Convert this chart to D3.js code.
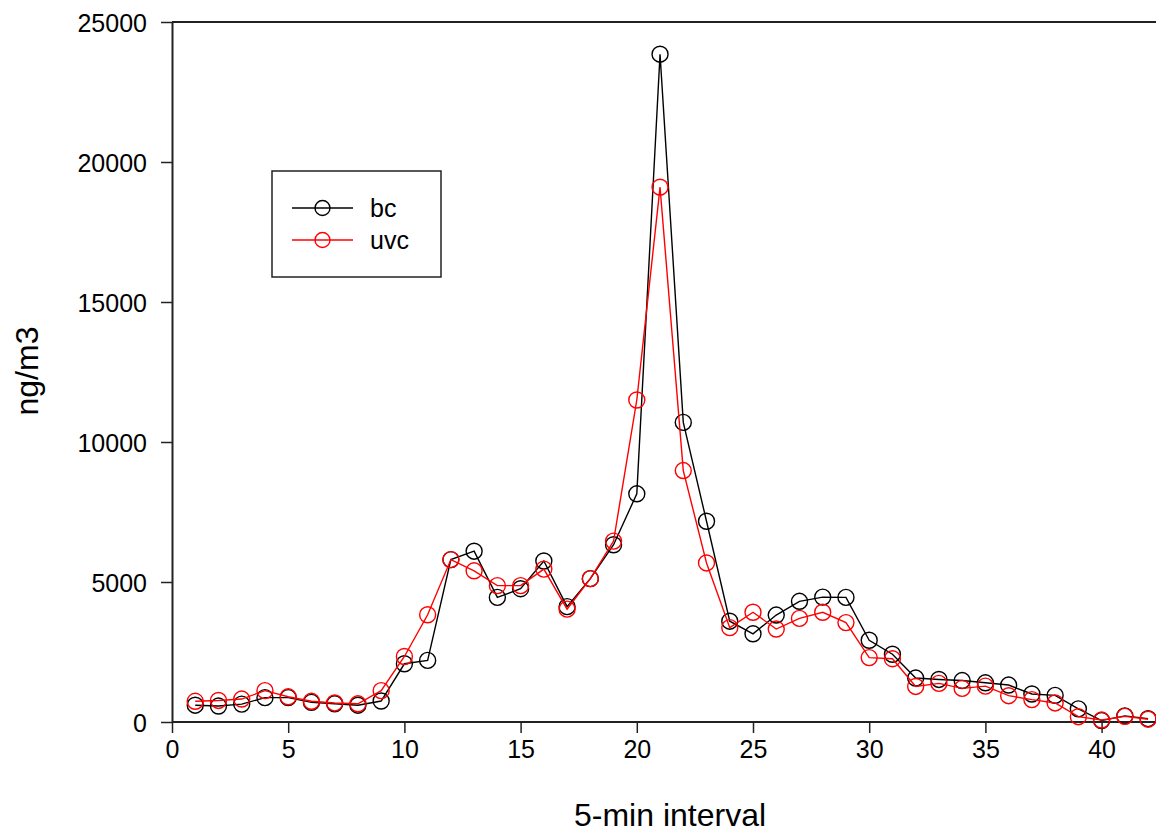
<!DOCTYPE html>
<html>
<head>
<meta charset="utf-8">
<script src="https://cdn.jsdelivr.net/npm/d3@7"></script>
<style>
  body { margin: 0; background: #fff; }
  svg { font-family: Arial, "Liberation Sans", sans-serif; }
</style>
</head>
<body>
<svg width="1156" height="835"></svg>
<script>
// 5-min intervals 1..42
const intervals = d3.range(1, 43);
const bc = [600, 570, 640, 870, 870, 700, 650, 600, 750, 2080,
  2200, 5800, 6100, 4450, 4760, 5750, 4120, 5120, 6330, 8150,
  23850, 10700, 7170, 3600, 3150, 3820, 4310, 4460, 4450, 2920,
  2420, 1570, 1520, 1480, 1400, 1320, 1000, 950, 470, 50,
  220, 120];
const uvc = [740, 770, 820, 1120, 900, 740, 680, 650, 1120, 2340,
  3830, 5800, 5400, 4870, 4870, 5460, 4030, 5120, 6460, 11500,
  19100, 8980, 5680, 3370, 3920, 3320, 3700, 3920, 3550, 2300,
  2260, 1270, 1380, 1200, 1280, 940, 800, 680, 190, 70,
  200, 100];
const xTicks = [0, 5, 10, 15, 20, 25, 30, 35, 40];
const yTicks = [0, 5000, 10000, 15000, 20000, 25000];

const series = [
  { name: "bc", color: "#000", values: bc },
  { name: "uvc", color: "#ff0000", values: uvc }
];

const svg = d3.select("svg");
const plotLeft = 172, plotTop = 22, plotBottom = 722;

const x = d3.scaleLinear().domain([0, 45]).range([plotLeft, plotLeft + 45 * 23.24]);
const y = d3.scaleLinear().domain([0, 25000]).range([plotBottom, plotTop]);

// top frame line
svg.append("line")
  .attr("x1", plotLeft).attr("x2", 1156)
  .attr("y1", plotTop).attr("y2", plotTop)
  .attr("stroke", "#222").attr("stroke-width", 2);

const xAxis = svg.append("g")
  .attr("transform", `translate(0,${plotBottom})`)
  .call(d3.axisBottom(x).tickValues(xTicks).tickFormat(d3.format("d"))
    .tickSize(11).tickPadding(7).tickSizeOuter(0));

const yAxis = svg.append("g")
  .attr("transform", `translate(${plotLeft},0)`)
  .call(d3.axisLeft(y).tickValues(yTicks).tickFormat(d3.format("d"))
    .tickSize(11).tickPadding(14).tickSizeOuter(0));

[xAxis, yAxis].forEach(a => {
  a.select(".domain").attr("stroke", "#222").attr("stroke-width", 2);
  a.selectAll(".tick line").attr("stroke", "#222").attr("stroke-width", 1.5);
  a.selectAll(".tick text")
    .attr("fill", "#000")
    .style("font-size", "25px")
    .style("font-family", "Arial, 'Liberation Sans', sans-serif");
});
xAxis.select(".domain").attr("d", `M${plotLeft},0H1156`);
yAxis.selectAll(".tick text").attr("dy", "0.36em");

const line = d3.line()
  .x((d, i) => x(intervals[i]))
  .y(d => y(d));

series.forEach(s => {
  svg.append("path")
    .datum(s.values)
    .attr("fill", "none")
    .attr("stroke", s.color)
    .attr("stroke-width", 1.4)
    .attr("d", line);
  svg.append("g").selectAll("circle")
    .data(s.values)
    .enter().append("circle")
    .attr("cx", (d, i) => x(intervals[i]))
    .attr("cy", d => y(d))
    .attr("r", 8)
    .attr("fill", "none")
    .attr("stroke", s.color)
    .attr("stroke-width", 1.4);
});

// axis titles
svg.append("text")
  .attr("x", 670).attr("y", 826)
  .attr("text-anchor", "middle")
  .style("font-size", "32px")
  .text("5-min interval");

svg.append("text")
  .attr("transform", "translate(38,371) rotate(-90)")
  .attr("text-anchor", "middle")
  .style("font-size", "32px")
  .text("ng/m3");

// legend
const legend = svg.append("g");
legend.append("rect")
  .attr("x", 272).attr("y", 171)
  .attr("width", 169).attr("height", 106)
  .attr("fill", "#fff")
  .attr("stroke", "#222").attr("stroke-width", 1.5);

series.forEach((s, i) => {
  const ly = 208 + i * 32;
  legend.append("line")
    .attr("x1", 292).attr("x2", 353)
    .attr("y1", ly).attr("y2", ly)
    .attr("stroke", s.color).attr("stroke-width", 1.4);
  legend.append("circle")
    .attr("cx", 322.5).attr("cy", ly).attr("r", 7.5)
    .attr("fill", "none")
    .attr("stroke", s.color).attr("stroke-width", 1.4);
  legend.append("text")
    .attr("x", 370).attr("y", ly)
    .attr("dy", "0.35em")
    .style("font-size", "25px")
    .text(s.name);
});
</script>
</body>
</html>
